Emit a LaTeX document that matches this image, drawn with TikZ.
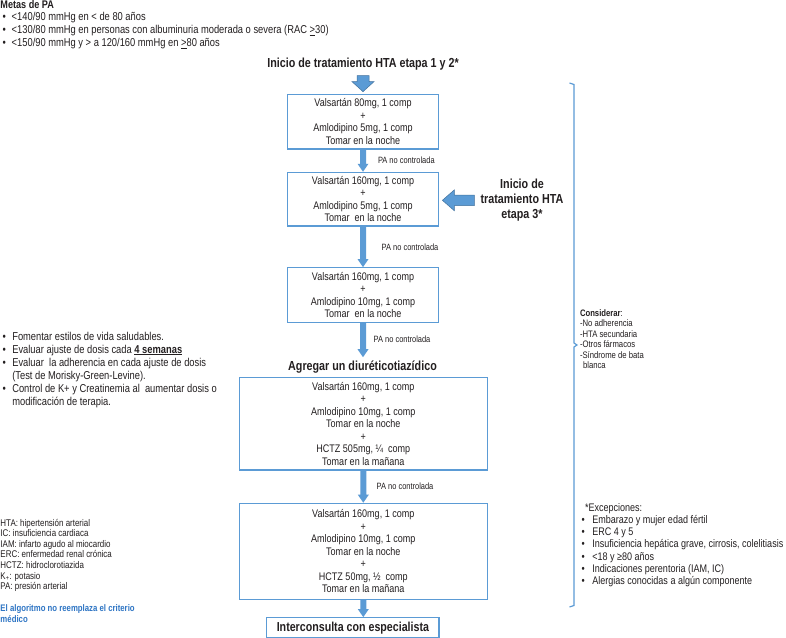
\documentclass[tikz,border=0pt]{standalone}
\usepackage{fontspec}
\setmainfont{Liberation Sans}[FakeStretch=0.82]
\usetikzlibrary{calc}
\definecolor{boxblue}{RGB}{91,155,213}
\definecolor{arrdark}{RGB}{65,113,156}
\definecolor{txtcol}{RGB}{35,31,32}
\definecolor{noteblue}{RGB}{46,117,196}
\newcommand\blkdown[6]{\path[#6] let \p1=(#1), \p2=(#2) in (\x1-#3,\y1) -- (\x1-#3,\y2+#5) -- (\x1-#4,\y2+#5) -- (\x1,\y2) -- (\x1+#4,\y2+#5) -- (\x1+#3,\y2+#5) -- (\x1+#3,\y1) -- cycle;}
\begin{document}
\begin{tikzpicture}[x=1pt,y=-1pt,
  txt/.style={inner sep=0pt, outer sep=0pt, anchor=base west, text=txtcol},
  bul/.style={txt, font=\fontsize{11.4}{13}\selectfont},
  leg/.style={txt, font=\fontsize{9.7}{10.6}\selectfont},
  lbl/.style={txt, font=\fontsize{9.1}{10}\selectfont},
  exc/.style={txt, font=\fontsize{11}{12.3}\selectfont},
  boxn/.style={draw=boxblue, line width=1.2pt, inner sep=0pt, align=center, text=txtcol, font=\fontsize{11}{12.5}\selectfont},
  ttl/.style={inner sep=0pt, text=txtcol, font=\bfseries\fontsize{13.1}{14.7}\selectfont, align=center},
  thinarr/.style={fill=boxblue},
  bigarr/.style={fill=boxblue, draw=arrdark, line width=0.5pt}]
\useasboundingbox (0,0) rectangle (786,637);
\fill[white] (0,0) rectangle (786,637);

% Metas de PA
\node[txt, font=\bfseries\fontsize{11.1}{13}\selectfont] (metas) at (0.5,8.5) {Metas de PA};
\foreach \t [count=\i] in {{<140/90 mmHg en < de 80 años},{<130/80 mmHg en personas con albuminuria moderada o severa (RAC \underline{>}30)},{<150/90 mmHg y > a 120/160 mmHg en \underline{>}80 años}}{
  \node[bul] (mb\i) at (11.7,{20.5+13*(\i-1)}) {\t};
  \node[bul] (mbd\i) at (2.5,{20.5+13*(\i-1)}) {•};
}

% title
\node[ttl, anchor=base] (t12) at (363,67.6) {Inicio de tratamiento HTA etapa 1 y 2*};

% boxes
\node[boxn, minimum width=150.6pt, minimum height=54.7pt] (b1) at (363,121.6) {Valsartán 80mg, 1 comp\\+\\Amlodipino 5mg, 1 comp\\Tomar en la noche};
\node[boxn, minimum width=150.6pt, minimum height=53.7pt] (b2) at (363,199.2) {Valsartán 160mg, 1 comp\\+\\Amlodipino 5mg, 1 comp\\Tomar \ en la noche};
\node[boxn, minimum width=150.6pt, minimum height=54.6pt] (b3) at (363,295) {Valsartán 160mg, 1 comp\\+\\Amlodipino 10mg, 1 comp\\Tomar \ en la noche};
\node[ttl, anchor=base] (ag) at (362.5,370.6) {Agregar un diuréticotiazídico};
\node[boxn, minimum width=248pt, minimum height=92.7pt] (b4) at (363.3,423.7) {Valsartán 160mg, 1 comp\\+\\Amlodipino 10mg, 1 comp\\Tomar en la noche\\+\\HCTZ 505mg, ¼ \ comp\\Tomar en la mañana};
\node[boxn, minimum width=248pt, minimum height=96pt] (b5) at (363.3,551.3) {Valsartán 160mg, 1 comp\\+\\Amlodipino 10mg, 1 comp\\Tomar en la noche\\+\\HCTZ 50mg, ½ \ comp\\Tomar en la mañana};
\node[boxn, font=\bfseries\fontsize{13}{14}\selectfont, minimum width=172.3pt, minimum height=20pt] (ic) at (352.9,627.7) {Interconsulta con especialista};

% etapa 3
\node[ttl] (e3) at (522,200.3) {Inicio de\\tratamiento HTA\\etapa 3*};

% arrows
\blkdown{[yshift=-5pt]t12.south}{[yshift=2pt]b1.north}{6pt}{11pt}{10pt}{bigarr}
\blkdown{b1.south}{b2.north}{3pt}{5.5pt}{8pt}{thinarr}
\blkdown{b2.south}{b3.north}{3pt}{5.5pt}{8pt}{thinarr}
\blkdown{b3.south}{[yshift=3.6pt]ag.north}{3pt}{5.5pt}{8pt}{thinarr}
\blkdown{b4.south}{b5.north}{3pt}{5.5pt}{8pt}{thinarr}
\blkdown{b5.south}{b5.south |- ic.north}{3pt}{5.5pt}{8pt}{thinarr}
\path[bigarr] let \p1=([xshift=-6pt]e3.west), \p2=([xshift=3.5pt]b2.east) in
  (\x1,\y1-5.3pt) -- (\x2+12pt,\y1-5.3pt) -- (\x2+12pt,\y1-10.5pt) -- (\x2,\y1)
  -- (\x2+12pt,\y1+10.5pt) -- (\x2+12pt,\y1+5.3pt) -- (\x1,\y1+5.3pt) -- cycle;

% PA labels
\node[lbl] (pa1) at (378,163.3) {PA no controlada};
\node[lbl] (pa2) at (381.7,250) {PA no controlada};
\node[lbl] (pa3) at (373.7,342.6) {PA no controlada};
\node[lbl] (pa4) at (376.7,489) {PA no controlada};

% left bullets
\foreach \t [count=\i] in {{Fomentar estilos de vida saludables.},{Evaluar ajuste de dosis cada \underline{\textbf{4 semanas}}},{Evaluar \ la adherencia en cada ajuste de dosis},{(Test de Morisky-Green-Levine).},{Control de K+ y Creatinemia al \ aumentar dosis o},{modificación de terapia.}}{
  \node[bul] (lb\i) at (12.3,{340+13*(\i-1)}) {\t};
}
\foreach \i in {1,2,3,5}{
  \node[bul] (lbd\i) at (2.7,{340+13*(\i-1)}) {•};
}

% legend
\foreach \t [count=\i] in {{HTA: hipertensión arterial},{IC: insuficiencia cardiaca},{IAM: infarto agudo al miocardio},{ERC: enfermedad renal crónica},{HCTZ: hidroclorotiazida},{K\textsubscript{+}: potasio},{PA: presión arterial}}{
  \node[leg] (lg\i) at (0.5,{526+10.65*(\i-1)}) {\t};
}
\node[txt, text=noteblue, font=\bfseries\fontsize{9.5}{11}\selectfont] (nt1) at (0.5,611.3) {El algoritmo no reemplaza el criterio};
\node[txt, text=noteblue, font=\bfseries\fontsize{9.5}{11}\selectfont] (nt2) at (0.5,622.3) {médico};

% brace
\draw[boxblue, line width=1.2pt] (569.5,83) -- (574,84.5) -- (574,343) -- (577,345) -- (574,347) -- (574,605.5) -- (569.5,607);

% considerar
\node[txt, font=\fontsize{9.4}{10.5}\selectfont] (c0) at (580,316) {\textbf{Considerar}:};
\foreach \t [count=\i] in {{-No adherencia},{-HTA secundaria},{-Otros fármacos},{-Síndrome de bata}}{
  \node[txt, font=\fontsize{9.4}{10.5}\selectfont] (c\i) at (580,{316+10.5*\i}) {\t};
}
\node[txt, font=\fontsize{9.4}{10.5}\selectfont] (c5) at (583,368.5) {blanca};

% excepciones
\node[exc] (ex0) at (585,511) {*Excepciones:};
\foreach \t [count=\i] in {{Embarazo y mujer edad fértil},{ERC 4 y 5},{Insuficiencia hepática grave, cirrosis, colelitiasis},{<18 y ≥80 años},{Indicaciones perentoria (IAM, IC)},{Alergias conocidas a algún componente}}{
  \node[exc] (ex\i) at (592.3,{511+12.3*\i}) {\t};
  \node[exc] (exd\i) at (581.5,{511+12.3*\i}) {•};
}
\end{tikzpicture}
\end{document}
